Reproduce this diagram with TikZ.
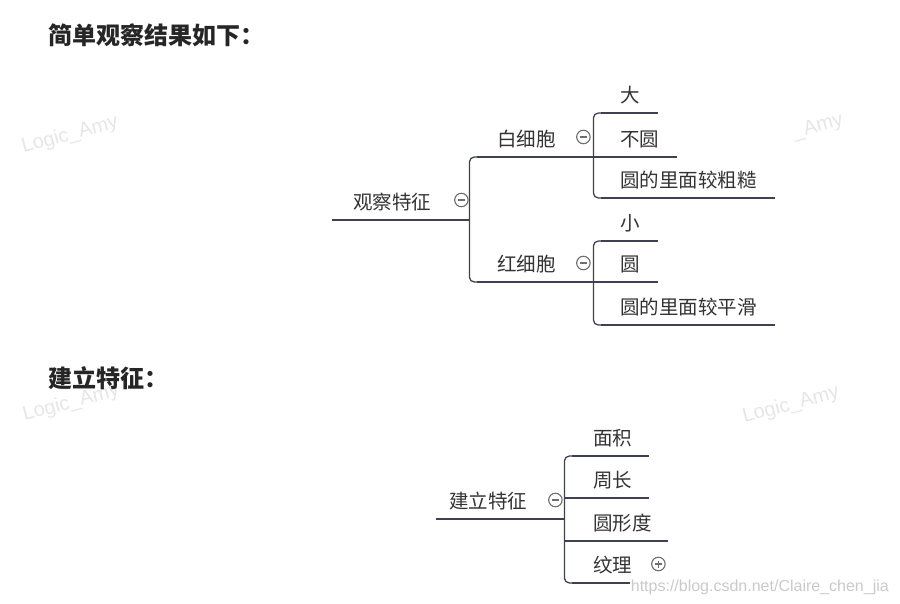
\documentclass[tikz,border=0pt]{standalone}
\usepackage{fontspec}
\newfontfamily\cjk{Noto Sans CJK SC}
\newfontfamily\wmfont{Liberation Sans}
\definecolor{branchcol}{HTML}{3D4150}
\definecolor{textcol}{HTML}{333333}
\definecolor{foldcol}{HTML}{6E6E6E}
\definecolor{wmcol}{HTML}{E6E6E6}
\definecolor{urlcol}{HTML}{CACACA}
\begin{document}
\begin{tikzpicture}[x=1pt, y=-1pt,
    branch/.style={draw=branchcol, line width=1.3pt, rounded corners=5pt},
    topic/.style={anchor=south west, inner xsep=0pt, inner ysep=10pt, text depth=0pt,
        align=left, text=textcol, font=\cjk\fontsize{19.5}{19.5}\selectfont,
        execute at begin node={\hspace*{#1}}},
    topic/.default=27pt,
    fold/.style={circle, draw=foldcol, line width=1.1pt, minimum size=13.5pt, inner sep=0pt, fill=white,
        path picture={\draw[foldcol, line width=1.1pt]
            ([xshift=-3.5pt]path picture bounding box.center) -- ([xshift=3.5pt]path picture bounding box.center);}},
    unfold/.style={circle, draw=foldcol, line width=1.1pt, minimum size=13.5pt, inner sep=0pt, fill=white,
        path picture={\draw[foldcol, line width=1.1pt]
            ([xshift=-3.5pt]path picture bounding box.center) -- ([xshift=3.5pt]path picture bounding box.center)
            ([yshift=-3.5pt]path picture bounding box.center) -- ([yshift=3.5pt]path picture bounding box.center);}},
    title/.style={anchor=west, inner sep=0pt, text=black!85, font=\cjk\bfseries\fontsize{24}{24}\selectfont},
    wm/.style={text=wmcol, rotate=15, font=\wmfont\fontsize{20}{20}\selectfont}
]
\useasboundingbox (0,0) rectangle (900,604);

% watermarks
\node[wm] (wmA) at (70,135) {Logic\_Amy};
\node[wm] (wmB) at (818,127) {\_Amy};
\node[wm] (wmC) at (71,403) {Logic\_Amy};
\node[wm] (wmD) at (791,405) {Logic\_Amy};

% headings
\node[title] (head1) at (48,35) {简单观察结果如下：};
\node[title] (head2) at (48,378) {建立特征：};

% first map
\node[topic=21pt, text width=137pt] (obs) at (332,220) {观察特征};
\node[topic=28pt, text width=124pt] (bai) at (469,157) {白细胞};
\node[topic=28pt, text width=124pt] (hong) at (469,282) {红细胞};
\node[topic, text width=65pt] (da) at (593,113) {大};
\node[topic, text width=84pt] (buyuan) at (593,157) {不圆};
\node[topic, text width=182pt] (cu) at (593,198) {圆的里面较粗糙};
\node[topic, text width=65pt] (xiao) at (593,241) {小};
\node[topic, text width=65pt] (yuan) at (593,282) {圆};
\node[topic, text width=182pt] (hua) at (593,325) {圆的里面较平滑};

% second map
\node[topic=13pt, text width=128pt] (jianli) at (436,519) {建立特征};
\node[topic=29pt, text width=85pt] (mianji) at (564,456) {面积};
\node[topic=29pt, text width=85pt] (zhouchang) at (564,498) {周长};
\node[topic=29pt, text width=104pt] (yuanxing) at (564,541) {圆形度};
\node[topic=29pt, text width=103pt] (wenli) at (564,583) {纹理};

% underlines (end children leave the corner to the bracket)
\foreach \n in {obs,jianli,buyuan,yuan,zhouchang,yuanxing}
    \draw[branch] (\n.south west) -- (\n.south east);
\foreach \n in {bai,hong,da,cu,xiao,hua,mianji,wenli}
    \draw[branch] ([xshift=8pt]\n.south west) -- (\n.south east);

% brackets
\draw[branch] ([xshift=10pt]bai.south west) -| (obs.south east) |- ([xshift=10pt]hong.south west);
\draw[branch] ([xshift=10pt]da.south west) -| (bai.south east) |- ([xshift=10pt]cu.south west);
\draw[branch] ([xshift=10pt]xiao.south west) -| (hong.south east) |- ([xshift=10pt]hua.south west);
\draw[branch] ([xshift=10pt]mianji.south west) -| (jianli.south east) |- ([xshift=10pt]wenli.south west);

% fold marks
\node[fold] (obsF) at ([xshift=-8pt,yshift=20pt]obs.south east) {};
\node[fold] (baiF) at ([xshift=-10pt,yshift=20pt]bai.south east) {};
\node[fold] (hongF) at ([xshift=-10pt,yshift=19pt]hong.south east) {};
\node[fold] (jianliF) at ([xshift=-9pt,yshift=19pt]jianli.south east) {};
\node[unfold] (wenliF) at ([xshift=-9pt,yshift=19pt]wenli.south east) {};

\node[anchor=east, fill=white, inner sep=1pt, text=urlcol, font=\wmfont\fontsize{16}{16}\selectfont]
    (url) at (890,587) {https://blog.csdn.net/Claire\_chen\_jia};
\end{tikzpicture}
\end{document}
